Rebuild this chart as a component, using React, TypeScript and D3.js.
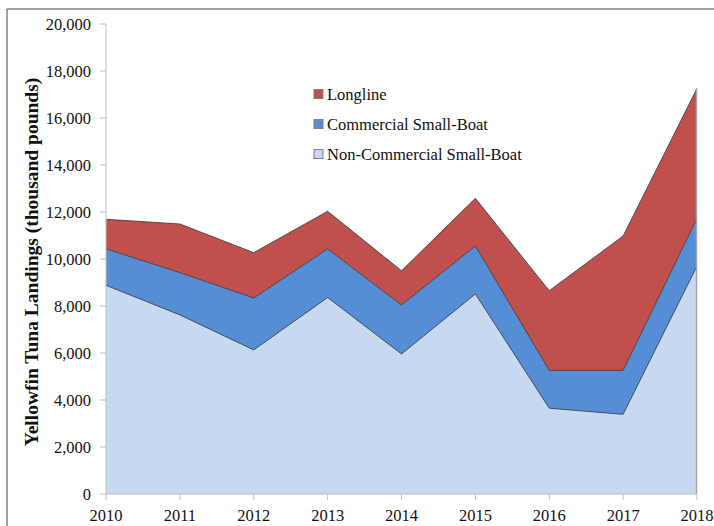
import React from "react";
import * as d3 from "d3";

const years = [2010, 2011, 2012, 2013, 2014, 2015, 2016, 2017, 2018];
const nonCommercial = [8880, 7620, 6130, 8360, 5960, 8510, 3650, 3390, 9700];
const commercial = [1550, 1800, 2210, 2070, 2080, 2040, 1610, 1870, 2030];
const longline = [1260, 2070, 1930, 1600, 1460, 2030, 3390, 5720, 5530];
const yTicks = [0, 2000, 4000, 6000, 8000, 10000, 12000, 14000, 16000, 18000, 20000];

const seriesKeys = ["nonCommercial", "commercial", "longline"];
const seriesNames: Record<string, string> = {
  longline: "Longline",
  commercial: "Commercial Small-Boat",
  nonCommercial: "Non-Commercial Small-Boat",
};
const colors: Record<string, string> = {
  longline: "#C0504D",
  commercial: "#558ED5",
  nonCommercial: "#C6D9F1",
};
const legendOrder = ["longline", "commercial", "nonCommercial"];

export default function App() {
  const W = 714, H = 526;
  const x0 = 106, x1 = 697, yTop = 24, yBot = 494;
  const x = d3.scaleLinear().domain([2010, 2018]).range([x0, x1]);
  const y = d3.scaleLinear().domain([0, 20000]).range([yBot, yTop]);

  const rows = years.map((yr, i) => ({
    year: yr,
    nonCommercial: nonCommercial[i],
    commercial: commercial[i],
    longline: longline[i],
  }));
  const stack = d3.stack<any>().keys(seriesKeys);
  const stacked = stack(rows);
  const area = d3
    .area<any>()
    .x((d) => x(d.data.year))
    .y0((d) => y(d[0]))
    .y1((d) => y(d[1]));
  const topLine = d3
    .line<any>()
    .x((d) => x(d.data.year))
    .y((d) => y(d[1]));

  const font = "'Liberation Serif', 'Times New Roman', serif";
  const lastTotal = stacked[stacked.length - 1][years.length - 1][1];

  return (
    <svg
      width={W}
      height={H}
      style={{ position: "absolute", left: 0, top: 0 }}
      fontFamily={font}
    >
      <rect x={0} y={0} width={W} height={H} fill="#fff" />
      {/* frame */}
      <line x1={7} y1={9} x2={W} y2={9} stroke="#808080" strokeWidth={1.5} />
      <line x1={7} y1={9} x2={7} y2={H} stroke="#808080" strokeWidth={1.5} />

      {/* areas */}
      {stacked.map((s) => (
        <path key={s.key} d={area(s) || ""} fill={colors[s.key]} />
      ))}
      {stacked.map((s) => (
        <path
          key={s.key + "-l"}
          d={topLine(s) || ""}
          fill="none"
          stroke="#333"
          strokeWidth={0.8}
        />
      ))}
      <line x1={x1 - 0.5} x2={x1 - 0.5} y1={y(lastTotal)} y2={yBot} stroke="#A6A6A6" strokeWidth={1.5} />

      {/* y axis */}
      <line x1={x0} x2={x0} y1={yTop} y2={yBot} stroke="#BFBFBF" strokeWidth={1} />
      {yTicks.map((t) => (
        <g key={t}>
          <line x1={x0 - 6} x2={x0} y1={y(t)} y2={y(t)} stroke="#BFBFBF" strokeWidth={1} />
          <text
            x={91}
            y={y(t)}
            dy="0.35em"
            textAnchor="end"
            fontSize={16.5}
            fill="#111"
          >
            {d3.format(",")(t)}
          </text>
        </g>
      ))}

      {/* x axis */}
      <line x1={x0} x2={x1} y1={yBot} y2={yBot} stroke="#BFBFBF" strokeWidth={1} />
      {years.map((yr) => (
        <g key={yr}>
          <line x1={x(yr)} x2={x(yr)} y1={yBot} y2={yBot + 6} stroke="#BFBFBF" strokeWidth={1} />
          <text x={x(yr)} y={521} textAnchor="middle" fontSize={16.5} fill="#111">
            {yr}
          </text>
        </g>
      ))}

      {/* y title */}
      <text
        transform={`translate(38, 262) rotate(-90)`}
        textAnchor="middle"
        fontSize={19.5}
        fontWeight="bold"
        fill="#111"
      >
        Yellowfin Tuna Landings (thousand pounds)
      </text>

      {/* legend */}
      {legendOrder.map((k, i) => (
        <g key={k} transform={`translate(314, ${94 + i * 30})`}>
          <rect x={0} y={-4.5} width={9} height={9} fill={colors[k]} stroke="#7F7F7F" strokeWidth={1} />
          <text x={13} y={0} dy="0.35em" fontSize={16.5} fill="#111">
            {seriesNames[k]}
          </text>
        </g>
      ))}
    </svg>
  );
}
